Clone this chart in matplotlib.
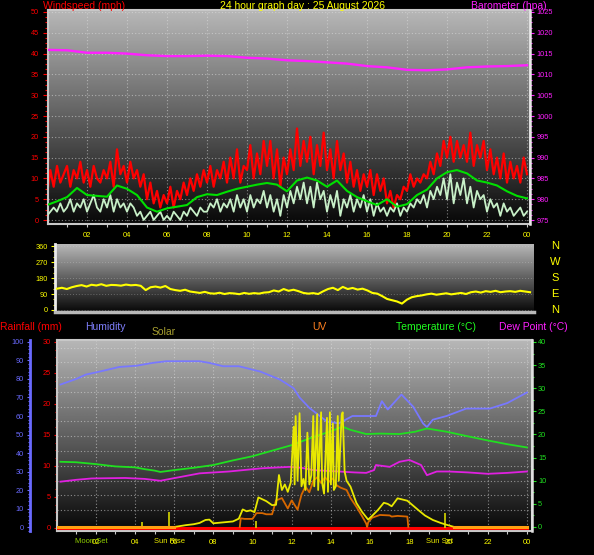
import numpy as np
import matplotlib
matplotlib.use("Agg")
import matplotlib.pyplot as plt
from matplotlib.ticker import MultipleLocator
from matplotlib.transforms import blended_transform_factory

plt.rcParams['font.family'] = ['Liberation Sans', 'DejaVu Sans']

# ---------------- data ----------------
title_text = '24 hour graph day : 25 August 2026'
tick_hours = [2, 4, 6, 8, 10, 12, 14, 16, 18, 20, 22, 24]
tick_labels = ['02', '04', '06', '08', '10', '12', '14', '16', '18', '20', '22', '00']

# wind gust, mph, every 10 minutes from 00:00
gust_mph = [
    6, 12, 8, 13, 9, 11,
    13, 8, 12, 10, 14, 9,
    12, 8, 13, 10, 9, 12,
    10, 14, 8, 17, 11, 13,
    9, 14, 10, 12, 8, 11,
    5, 9, 4, 7, 3, 6,
    4, 8, 3, 7, 5, 9,
    6, 10, 7, 11, 8, 12,
    9, 13, 8, 12, 10, 14,
    9, 15, 10, 17, 9, 13,
    12, 18, 10, 16, 11, 19,
    13, 19, 10, 17, 8, 15,
    11, 17, 12, 22, 13, 19,
    14, 20, 11, 18, 13, 21,
    12, 17, 10, 19, 12, 16,
    9, 14, 8, 12, 7, 11,
    8, 12, 6, 11, 7, 10,
    4, 7, 3, 6, 5, 8,
    7, 11, 8, 10, 9, 11,
    10, 14, 11, 16, 13, 19,
    15, 20, 14, 19, 15, 18,
    14, 21, 13, 18, 15, 19,
    12, 17, 11, 15, 10, 16,
    9, 14, 10, 13, 9, 15,
    11]
# wind speed, mph, every 10 minutes
speed_mph = [
    1, 2, 3, 2, 4, 2,
    3, 5, 2, 4, 3, 5,
    2, 4, 6, 3, 2, 5,
    3, 6, 2, 5, 3, 4,
    2, 4, 3, 1, 2, 0,
    1, 2, 0, 1, 2, 0,
    1, 0, 2, 1, 0, 2,
    1, 3, 2, 1, 3, 2,
    2, 4, 3, 5, 2, 4,
    3, 5, 2, 6, 3, 5,
    2, 6, 3, 5, 4, 7,
    3, 6, 2, 5, 1, 6,
    3, 7, 4, 8, 5, 9,
    4, 8, 3, 9, 5, 7,
    2, 6, 3, 7, 1, 5,
    3, 6, 2, 5, 3, 6,
    2, 5, 1, 4, 2, 3,
    1, 3, 2, 4, 1, 3,
    2, 4, 3, 5, 4, 6,
    3, 7, 5, 8, 6, 10,
    5, 11, 4, 9, 6, 10,
    4, 8, 3, 7, 5, 6,
    2, 5, 3, 4, 1, 4,
    2, 3, 1, 2, 3, 1,
    2]
# average wind, mph, every 30 minutes
avg_mph = [3.6, 4.5, 5.5, 7.7, 6.0, 5.8, 5.6, 8.3, 7.5, 6.0, 3.0, 2.0, 2.8,
           3.2, 3.6, 5.5, 6.2, 6.0, 6.8, 7.5, 8.0, 8.5, 8.9, 8.5, 6.9, 9.5,
           10.2, 9.5, 8.0, 9.5, 7.0, 5.5, 4.5, 3.6, 5.0, 3.2, 3.8, 6.0, 7.3,
           10.0, 11.5, 12.0, 11.2, 9.5, 9.0, 8.3, 6.9, 5.8, 5.2]
# barometer hourly, hPa
baro_hours = list(range(25))
baro_hpa = [1015.9, 1015.8, 1015.2, 1015.2, 1015.0, 1014.6, 1014.4, 1014.4,
            1014.5, 1014.4, 1014.0, 1013.8, 1013.4, 1013.2, 1012.9, 1012.6,
            1012.0, 1011.7, 1011.1, 1011.0, 1011.2, 1011.7, 1011.9, 1012.0,
            1012.2]
# wind direction, degrees, every 15 minutes
dir_deg = [
    120, 125, 118, 128, 135, 140, 132, 142, 138, 145, 136, 141,
    140, 137, 143, 139, 141, 136, 112, 128, 132, 126, 135, 118,
    112, 108, 114, 104, 100, 96, 102, 94, 92, 97, 90, 95,
    93, 89, 96, 91, 95, 92, 98, 100, 110, 104, 118, 108,
    114, 106, 96, 92, 95, 90, 105, 118, 125, 112, 130, 118,
    124, 115, 120, 110, 96, 92, 78, 62, 55, 48, 36, 58,
    72, 78, 82, 88, 92, 86, 90, 94, 88, 92, 96, 90,
    100, 104, 98, 106, 102, 108, 100, 104, 106, 102, 108, 104,
    100]
compass_labels = ['N', 'W', 'S', 'E', 'N']
compass_deg = [360, 270, 180, 90, 0]
dir_ticks = [0, 90, 180, 270, 360]

hum_hours = [0.2, 1.0, 1.5, 2.2, 3.2, 4.1, 4.9, 5.6, 7.3, 7.8, 8.5, 9.3, 10.4,
             11.4, 12.1, 12.4, 12.9, 13.8, 14.4, 15.1, 16.3, 16.6, 16.9, 17.6,
             18.2, 18.7, 18.9, 19.2, 19.9, 20.9, 22.1, 23.0, 24.0]
hum_pct = [77, 80, 82.4, 84, 86.5, 87.2, 88.7, 89.6, 89.6, 88.7, 86.9, 86.9, 84,
           79.7, 75, 70, 64.4, 57, 56, 60, 60, 68, 63.5, 71.6,
           65, 56, 54, 58, 60, 64, 64, 67, 72.7]

temp_hours = [0.2, 1.0, 2.0, 3.0, 4.0, 4.5, 5.0, 5.3, 6.0, 7.0, 8.0, 9.0, 10.0,
              11.0, 12.0, 13.0, 14.0, 14.6, 15.0, 15.8, 16.5, 17.5, 18.3, 18.9,
              19.9, 21.0, 21.9, 23.0, 24.0]
temp_c = [14.1, 14.0, 13.6, 13.1, 12.9, 12.5, 12.2, 11.9, 12.3, 12.8, 13.4, 14.4,
          15.3, 16.5, 17.7, 19.3, 20.7, 21.7, 21.0, 20.1, 20.2, 20.1, 20.6, 21.3,
          20.6, 19.6, 18.8, 17.9, 17.2]

dew_hours = [0.2, 1.0, 1.8, 3.5, 4.5, 5.3, 6.3, 7.3, 8.8, 10.5, 11.9, 12.5, 13.1,
             14.4, 15.2, 15.8, 16.2, 16.3, 17.0, 17.5, 18.0, 18.6, 18.9, 19.4,
             20.0, 21.0, 22.0, 23.0, 24.0]
dew_c = [9.8, 10.2, 10.5, 10.6, 10.4, 10.0, 10.8, 11.6, 12.0, 12.7, 13.0, 12.8,
         12.3, 12.0, 11.8, 11.7, 12.3, 13.4, 13.0, 14.1, 14.5, 13.4, 11.2, 12.0,
         12.0, 11.8, 11.5, 11.7, 12.0]

solar_hours = [0, 6.0, 6.3, 6.6, 7.0, 7.3, 7.6, 7.8, 8.0, 8.5,
               9.0, 9.3, 9.5, 9.7, 9.9, 10.1, 10.3, 10.5, 10.7, 11.0,
               11.2, 11.35, 11.5, 11.65, 11.8, 11.95, 12.1, 12.15, 12.2, 12.3,
               12.4, 12.5, 12.6, 12.7, 12.8, 12.9, 13.0, 13.1, 13.15, 13.3,
               13.35, 13.5, 13.55, 13.65, 13.8, 13.85, 13.95, 14.0, 14.1, 14.15,
               14.25, 14.35, 14.4, 14.55, 14.6, 14.7, 14.8, 15.0, 15.3, 15.6,
               15.9, 16.1, 16.4, 16.7, 16.9, 17.1, 17.4, 17.6, 17.9, 18.2,
               18.5, 18.8, 19.2, 19.6, 19.9, 20.3, 24.0]
solar_wm2 = [0, 0, 5, 10, 15, 22, 38, 40, 20, 25,
             30, 45, 95, 85, 90, 80, 160, 150, 140, 118,
             120, 281, 200, 230, 190, 240, 542, 230, 600, 250,
             615, 220, 260, 200, 510, 230, 280, 600, 220, 610,
             200, 620, 240, 180, 590, 190, 620, 230, 560, 200,
             220, 600, 250, 605, 620, 300, 250, 218, 130, 80,
             40, 60, 92, 131, 125, 112, 155, 150, 142, 115,
             88, 62, 38, 22, 12, 0, 0]

uv_hours = [9.35, 9.4, 9.6, 10.0, 10.2, 10.5, 10.7, 11.0, 11.2, 11.5, 11.8, 12.0,
            12.3, 12.5, 12.7, 12.9, 13.1, 13.3, 13.5, 13.7, 13.9, 14.1, 14.3,
            14.5, 14.8, 15.0, 15.3, 15.6, 15.8, 15.85, 15.9, 16.1, 16.5, 17.0,
            17.1, 17.4, 17.9, 17.95]
uv_index = [0, 0.75, 0.7, 0.7, 1.2, 1.2, 1.1, 1.1, 2.3, 2.5, 1.6, 2.3,
            1.5, 2.8, 3.5, 3.0, 4.0, 4.3, 3.8, 4.3, 3.9, 4.2, 3.6,
            3.4, 3.2, 2.5, 1.75, 0.9, 0.3, 0, 0.4, 0.8, 1.04, 1.0,
            0.9, 0.96, 0.9, 0]

rain_hours = [0, 24]
rain_mm = [0, 0]

event_names = ['Moon Set', 'Sun Rise', 'Sun Set']
event_hours = [1.8, 5.75, 19.55]
event_colors = ['#90d000', '#e8e800', '#e8e800']
marker_hours = [4.35, 5.74, 10.2, 19.8]
marker_mm = [1.0, 2.6, 1.2, 2.4]

# ---------------- layout helpers ----------------
W, H = 594, 555
PT = 0.72  # points per pixel at 100 dpi
fig = plt.figure(figsize=(W / 100, H / 100), dpi=100, facecolor='black')


def box(x0, y0, x1, y1):
    return [x0 / W, 1 - y1 / H, (x1 - x0) / W, (y1 - y0) / H]


def fx(px):
    return px / W


def fy(py):
    return 1 - py / H


FRAME = '#c8c8c8'
YEL = '#ffff00'
GRID = dict(color='#e0e0e0', ls=(0, (1, 2)), lw=0.8, alpha=0.55)


def gradient(ax, top=0.72, bottom=0.03):
    g = np.linspace(top, bottom, 256).reshape(-1, 1)
    ax.imshow(g, cmap='gray', vmin=0, vmax=1, extent=(0, 1, 0, 1),
              transform=ax.transAxes, aspect='auto',
              interpolation='bilinear', zorder=0)


def hide_spines(ax, keep=()):
    for k, s in ax.spines.items():
        s.set_visible(k in keep)


# ---------------- top panel: wind & barometer ----------------
axw = fig.add_axes(box(48, 10, 530, 224))
axw.set_facecolor('black')
gradient(axw)
t10 = np.arange(len(gust_mph)) / 6
t30 = np.arange(len(avg_mph)) / 2
axw.plot(t10, gust_mph, color='#ff0000', lw=1.6, zorder=2)
axw.plot(t10, speed_mph, color='#c8f0c8', lw=1.3, zorder=3)
axw.plot(t30, avg_mph, color='#00e000', lw=1.5, zorder=4)
axw.set_xlim(0.05, 24.15)
axw.set_ylim(-0.96, 50.48)
axw.yaxis.set_major_locator(MultipleLocator(5))
axw.yaxis.set_minor_locator(MultipleLocator(1.25))
axw.set_xticks(tick_hours)
axw.set_xticklabels(tick_labels)
axw.xaxis.set_minor_locator(MultipleLocator(1))
axw.tick_params(axis='y', which='major', color='#ff0000', labelcolor='#ff0000',
                labelsize=5.3, length=5 * PT, width=0.8, pad=4 * PT)
axw.tick_params(axis='y', which='minor', color='#ff0000', length=3 * PT, width=0.8)
axw.tick_params(axis='x', which='both', color=FRAME, labelcolor=YEL,
                labelsize=5.5, length=3 * PT, width=0.8, pad=5 * PT)
axw.grid(True, which='major', **GRID)
for s in axw.spines.values():
    s.set_color(FRAME)
    s.set_linewidth(1.5)

axp = axw.twinx()
axp.plot(baro_hours, baro_hpa, color='#ff20ff', lw=1.7)
axp.set_ylim(974.04, 1025.48)
axp.yaxis.set_major_locator(MultipleLocator(5))
axp.yaxis.set_minor_locator(MultipleLocator(1.25))
axp.tick_params(axis='y', which='major', color='#ff20ff', labelcolor='#ff20ff',
                labelsize=5.3, length=3.5 * PT, width=0.8, pad=3 * PT)
axp.tick_params(axis='y', which='minor', color='#ff20ff', length=2 * PT, width=0.8)
hide_spines(axp, keep=('right',))
axp.spines['right'].set_color('#e8e8e8')
axp.spines['right'].set_linewidth(1.8)

fig.text(fx(43), fy(6), 'Windspeed (mph)', color='#ff0000', fontsize=7.5, ha='left', va='center')
fig.text(fx(303), fy(6), title_text, color=YEL, fontsize=7.5, ha='center', va='center')
fig.text(fx(471), fy(6), 'Barometer (hpa)', color='#ff20ff', fontsize=7.5, ha='left', va='center')

# ---------------- middle panel: wind direction ----------------
axd = fig.add_axes(box(55, 244, 534, 312))
axd.set_facecolor('black')
gradient(axd)
t15 = np.arange(len(dir_deg)) / 4
axd.plot(t15, dir_deg, color=YEL, lw=1.5, zorder=3)
axd.set_xlim(-0.1, 24.2)
axd.set_ylim(-11.25, 371.25)
axd.set_yticks(dir_ticks)
axd.yaxis.set_minor_locator(MultipleLocator(30))
axd.set_xticks([])
axd.tick_params(axis='y', which='major', color=YEL, labelcolor=YEL,
                labelsize=5.3, length=4 * PT, width=0.8, pad=3 * PT)
axd.tick_params(axis='y', which='minor', color=YEL, length=2.5 * PT, width=0.8)
axd.grid(True, axis='y', color='#d0d0d0', ls=(0, (1, 2)), lw=0.7, alpha=0.35)
hide_spines(axd, keep=('left', 'bottom'))
axd.spines['left'].set_color('#ececec')
axd.spines['left'].set_linewidth(2)
axd.spines['bottom'].set_color('#b8b8b8')
axd.spines['bottom'].set_linewidth(2.5)
ctrans = blended_transform_factory(fig.transFigure, axd.transData)
for lbl, d in zip(compass_labels, compass_deg):
    axd.text(fx(555), d, lbl, transform=ctrans, color=YEL, fontsize=8,
             ha='center', va='center', clip_on=False)

# ---------------- bottom panel ----------------
axb = fig.add_axes(box(57, 340, 532, 531))
axb.set_facecolor('black')
gradient(axb)
axb.plot(rain_hours, rain_mm, color='#ff0000', lw=2.2, zorder=3)
axb.vlines(marker_hours, 0, marker_mm, color='#d8d800', lw=1.2, zorder=3)
axb.set_xlim(0.0255, 24.26)
axb.set_ylim(-0.484, 30.32)
axb.yaxis.set_major_locator(MultipleLocator(5))
axb.yaxis.set_minor_locator(MultipleLocator(1.25))
axb.set_xticks(tick_hours)
axb.set_xticklabels(tick_labels)
axb.xaxis.set_minor_locator(MultipleLocator(1))
axb.tick_params(axis='y', which='major', color='#ff0000', labelcolor='#ff0000',
                labelsize=5.3, length=3 * PT, width=0.8, pad=3 * PT)
axb.tick_params(axis='y', which='minor', color='#ff0000', length=2 * PT, width=0.8)
axb.tick_params(axis='x', which='both', color=FRAME, labelcolor=YEL,
                labelsize=5.5, length=3 * PT, width=0.8, pad=4.5 * PT)
axb.grid(True, axis='x', which='major', **GRID)
for yv in np.arange(2.9, 30, 2.38):
    axb.axhline(yv, zorder=1, **GRID)
for s in axb.spines.values():
    s.set_color(FRAME)
    s.set_linewidth(1.5)

etrans = blended_transform_factory(axb.transData, fig.transFigure)
for name, h, c in zip(event_names, event_hours, event_colors):
    axb.text(h, fy(541.5), name, transform=etrans, color=c, fontsize=5.5,
             ha='center', va='center', clip_on=False)

# humidity (outer left axis)
axh = axb.twinx()
axh.plot(hum_hours, hum_pct, color='#7878ff', lw=1.3)
axh.set_ylim(-2.16, 101.08)
axh.yaxis.set_ticks_position('left')
axh.yaxis.set_label_position('left')
hide_spines(axh, keep=('left',))
axh.spines['left'].set_position(('outward', 27 * PT))
axh.spines['left'].set_color('#6a6aff')
axh.spines['left'].set_linewidth(2)
axh.yaxis.set_major_locator(MultipleLocator(10))
axh.yaxis.set_minor_locator(MultipleLocator(2))
axh.tick_params(axis='y', which='major', color='#6a6aff', labelcolor='#6a6aff',
                labelsize=5.3, length=3 * PT, width=0.8, pad=3 * PT)
axh.tick_params(axis='y', which='minor', color='#6a6aff', length=2 * PT, width=0.8)

# temperature & dew point (right axis)
axt = axb.twinx()
axt.plot(temp_hours, temp_c, color='#20e020', lw=1.3)
axt.plot(dew_hours, dew_c, color='#e020e0', lw=1.3)
axt.set_ylim(-0.865, 40.43)
hide_spines(axt, keep=('right',))
axt.spines['right'].set_color('#e0e0e0')
axt.spines['right'].set_linewidth(1.8)
axt.yaxis.set_major_locator(MultipleLocator(5))
axt.yaxis.set_minor_locator(MultipleLocator(2.5))
axt.tick_params(axis='y', which='major', color='#20e020', labelcolor='#20e020',
                labelsize=5.3, length=4 * PT, width=0.8, pad=2 * PT)
axt.tick_params(axis='y', which='minor', color='#20e020', length=2.5 * PT, width=0.8)

# UV (hidden scale)
axu = axb.twinx()
axu.plot(uv_hours, uv_index, color='#d86800', lw=1.3)
axu.set_ylim(-0.346, 16.17)
axu.axis('off')

# solar (hidden scale); zero stretches (sun down) drawn orange as in the source
axs = axb.twinx()
solar_arr = np.array(solar_wm2, dtype=float)
axs.plot(solar_hours, solar_arr, color='#e8e800', lw=1.3)
night = np.where(solar_arr == 0, solar_arr, np.nan)
axs.plot(solar_hours, night, color='#ffa010', lw=2.2)
axs.set_ylim(-21.6, 1010.8)
axs.axis('off')

fig.text(fx(0), fy(327), 'Rainfall (mm)', color='#ff0000', fontsize=7.5, ha='left', va='center')
fig.text(fx(85), fy(327), 'Humidity', color='#8080ff', fontsize=7.5, ha='left', va='center')
fig.text(fx(152), fy(332), 'Solar', color='#a8a030', fontsize=7.5, ha='left', va='center')
fig.text(fx(312), fy(327), 'UV', color='#ff8020', fontsize=7.5, ha='left', va='center')
fig.text(fx(396), fy(327), 'Temperature (°C)', color='#20ff20', fontsize=7.5, ha='left', va='center')
fig.text(fx(499), fy(327), 'Dew Point (°C)', color='#ff20ff', fontsize=7.5, ha='left', va='center')

fig.savefig('out.png', dpi=100, facecolor='black')
